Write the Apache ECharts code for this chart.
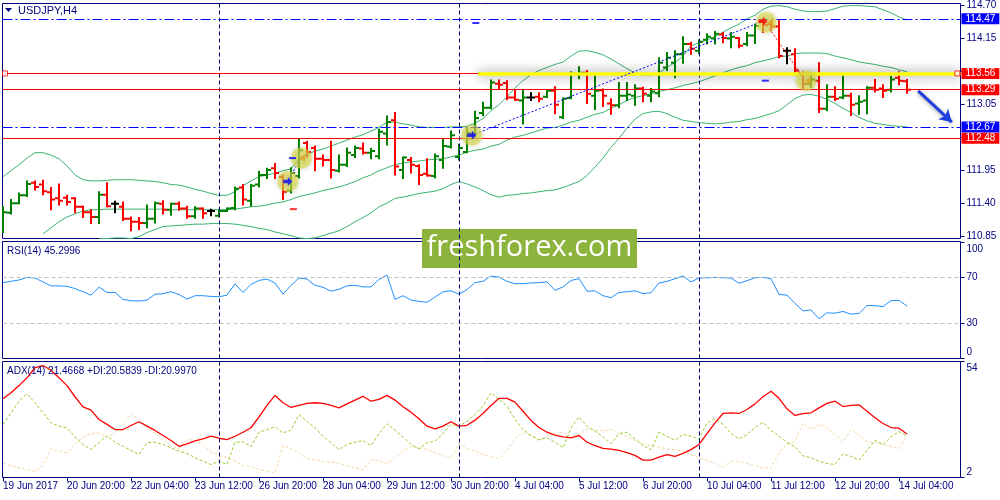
<!DOCTYPE html>
<html>
<head>
<meta charset="utf-8">
<title>USDJPY,H4</title>
<script src="https://cdn.jsdelivr.net/npm/echarts@6.0.0/dist/echarts.min.js"></script>
<style>
html, body { margin: 0; padding: 0; background: #fff; }
#chart { width: 1000px; height: 500px; }
</style>
</head>
<body>
<div id="chart"></div>
<script>
// H4 bars, 19 Jun 2017 12:00 .. 14 Jul 2017 08:00
var timeLabels = ['19 Jun 2017', '20 Jun 20:00', '22 Jun 04:00', '23 Jun 12:00', '26 Jun 20:00',
    '28 Jun 04:00', '29 Jun 12:00', '30 Jun 20:00', '4 Jul 04:00', '5 Jul 12:00', '6 Jul 20:00',
    '10 Jul 04:00', '11 Jul 12:00', '12 Jul 20:00', '14 Jul 04:00'];
var labelStep = 8;
var weekStarts = [27, 57, 87];

var opens = [111.04,111.24,111.40,111.53,111.74,111.71,111.58,111.48,111.49,111.48,
    111.34,111.25,111.17,111.54,111.39,111.34,111.14,111.09,111.07,111.14,
    111.39,111.29,111.39,111.31,111.18,111.31,111.27,111.19,111.27,111.32,
    111.66,111.44,111.71,111.87,111.98,111.84,111.61,111.85,112.40,112.32,
    112.14,112.12,111.94,112.04,112.20,112.31,112.24,112.18,112.56,112.78,
    111.95,112.12,112.02,111.89,111.85,112.12,112.34,112.17,112.25,112.53,
    112.90,112.99,113.39,113.40,113.16,113.11,113.16,113.17,113.17,113.27,
    112.83,113.15,113.55,113.57,113.19,113.28,113.06,113.03,113.19,113.19,
    113.31,113.19,113.23,113.66,113.74,113.88,114.05,113.94,114.12,114.14,
    114.21,114.14,114.15,114.05,114.19,114.43,114.38,114.34,113.94,113.88,
    113.56,113.39,113.44,112.97,113.17,113.16,113.19,113.06,113.11,113.32,
    113.31,113.29,113.49,113.43];
var highs = [111.34,111.46,111.57,111.77,111.77,111.78,111.66,111.72,111.53,111.49,
    111.35,111.29,111.59,111.74,111.43,111.42,111.17,111.16,111.37,111.42,
    111.44,111.40,111.42,111.35,111.34,111.32,111.30,111.29,111.32,111.67,
    111.71,111.71,111.93,111.98,112.06,111.87,111.99,112.47,112.43,112.35,
    112.20,112.43,112.20,112.32,112.35,112.40,112.31,112.63,112.85,112.91,
    112.17,112.16,112.04,112.14,112.22,112.46,112.60,112.38,112.64,112.93,
    113.08,113.45,113.45,113.44,113.29,113.29,113.24,113.24,113.29,113.34,
    113.15,113.59,113.67,113.61,113.52,113.30,113.14,113.41,113.41,113.37,
    113.33,113.31,113.82,113.91,113.94,114.17,114.08,114.12,114.22,114.26,
    114.24,114.24,114.16,114.24,114.38,114.47,114.43,114.46,113.99,113.97,
    113.59,113.52,113.74,113.37,113.34,113.52,113.23,113.19,113.34,113.46,
    113.37,113.51,113.59,113.46];
var lows = [110.91,111.22,111.39,111.51,111.62,111.54,111.29,111.37,111.37,111.24,
    111.16,111.06,111.06,111.34,111.24,111.11,110.94,110.96,110.99,111.07,
    111.22,111.20,111.28,111.15,111.15,111.15,111.19,111.17,111.26,111.29,
    111.37,111.35,111.67,111.81,111.81,111.46,111.57,111.82,112.17,111.94,
    112.02,111.82,111.92,112.01,112.16,112.22,112.14,112.14,112.37,111.87,
    111.81,111.90,111.71,111.85,111.82,111.98,112.32,112.12,112.24,112.50,
    112.86,112.97,113.31,113.12,113.11,112.72,113.11,113.09,113.16,112.89,
    112.81,113.14,113.47,113.06,112.96,113.01,112.88,112.99,113.11,113.03,
    113.09,113.09,113.17,113.61,113.49,113.73,113.88,113.89,114.05,114.05,
    114.07,113.99,113.99,114.02,114.06,114.24,114.27,113.82,113.72,113.59,
    113.31,113.33,112.91,112.94,113.11,113.14,112.86,112.88,112.89,113.25,
    113.16,113.25,113.37,113.23];
var closes = [111.25,111.40,111.53,111.72,111.67,111.60,111.46,111.44,111.42,111.34,
    111.25,111.17,111.54,111.35,111.39,111.14,111.09,111.07,111.14,111.40,
    111.29,111.39,111.31,111.18,111.31,111.23,111.27,111.27,111.31,111.64,
    111.46,111.69,111.87,111.95,111.90,111.59,111.90,112.28,112.25,112.14,
    112.12,111.95,112.04,112.24,112.32,112.24,112.27,112.59,112.75,112.01,
    112.16,112.04,111.87,111.86,112.18,112.35,112.53,112.32,112.57,112.82,
    112.99,113.41,113.37,113.16,113.12,113.16,113.16,113.14,113.27,113.04,
    113.14,113.56,113.57,113.22,113.27,113.19,113.03,113.19,113.21,113.31,
    113.22,113.26,113.74,113.82,113.88,114.05,113.97,114.09,114.17,114.22,
    114.15,114.17,114.02,114.19,114.35,114.37,114.34,113.85,113.94,113.61,
    113.39,113.46,112.97,113.17,113.14,113.19,113.04,113.09,113.32,113.29,
    113.27,113.46,113.44,113.29];

// Bollinger bands; null where the band runs below the visible price range
var bbUpper = [111.84,111.94,112.04,112.15,112.24,112.24,112.20,112.14,112.02,111.87,
    111.79,111.77,111.77,111.78,111.79,111.79,111.79,111.78,111.77,111.76,
    111.74,111.71,111.70,111.67,111.63,111.60,111.56,111.53,111.53,111.59,
    111.69,111.77,111.84,111.87,111.90,111.94,111.97,112.14,112.20,112.27,
    112.30,112.35,112.40,112.45,112.50,112.54,112.60,112.66,112.75,112.75,
    112.72,112.70,112.67,112.66,112.66,112.66,112.67,112.67,112.68,112.73,
    112.81,112.94,113.04,113.17,113.32,113.44,113.54,113.61,113.66,113.71,
    113.75,113.85,113.93,113.94,113.91,113.87,113.80,113.72,113.64,113.57,
    113.53,113.53,113.57,113.66,113.74,113.85,114.02,114.07,114.12,114.17,
    114.25,114.32,114.38,114.47,114.53,114.63,114.68,114.69,114.67,114.63,
    114.60,114.59,114.59,114.60,114.64,114.68,114.69,114.69,114.68,114.67,
    114.62,114.57,114.50,114.45];
var bbMiddle = [null,null,null,null,null,110.89,110.99,111.09,111.17,111.22,
    111.27,111.29,111.29,111.30,111.30,111.30,111.30,111.30,111.30,111.30,
    111.30,111.29,111.29,111.29,111.29,111.29,111.29,111.29,111.29,111.30,
    111.32,111.34,111.35,111.37,111.40,111.42,111.46,111.51,111.54,111.57,
    111.61,111.64,111.67,111.71,111.76,111.82,111.87,111.94,111.99,112.04,
    112.07,112.09,112.10,112.12,112.13,112.14,112.17,112.20,112.25,112.28,
    112.30,112.35,112.38,112.45,112.50,112.53,112.57,112.61,112.65,112.66,
    112.70,112.75,112.78,112.83,112.88,112.91,112.98,113.04,113.11,113.16,
    113.19,113.22,113.26,113.29,113.32,113.36,113.39,113.42,113.47,113.52,
    113.57,113.62,113.66,113.69,113.74,113.77,113.80,113.84,113.85,113.89,
    113.90,113.90,113.90,113.89,113.85,113.82,113.79,113.75,113.73,113.71,
    113.68,113.66,113.62,113.59];
var bbLower = [null,null,null,null,null,null,null,null,null,null,
    null,null,110.81,110.81,110.82,110.82,110.81,110.84,110.91,110.96,
    111.01,111.02,111.03,111.04,111.05,111.05,111.06,111.06,111.06,111.05,
    111.03,111.01,110.98,110.96,110.92,110.89,110.86,110.82,110.81,110.82,
    110.86,110.90,110.94,111.01,111.09,111.16,111.24,111.34,111.40,111.48,
    111.50,111.53,111.56,111.58,111.60,111.64,111.71,111.76,111.72,111.67,
    111.61,111.54,111.50,111.53,111.54,111.56,111.57,111.59,111.61,111.62,
    111.66,111.71,111.76,111.86,112.00,112.15,112.33,112.48,112.65,112.80,
    112.89,112.92,112.93,112.89,112.83,112.78,112.76,112.74,112.73,112.72,
    112.73,112.75,112.76,112.79,112.81,112.85,112.89,112.94,113.04,113.14,
    113.20,113.21,113.18,113.13,113.06,112.98,112.91,112.83,112.77,112.73,
    112.71,112.69,112.68,112.67];

var rsi = [65.5,66.6,67.8,70.0,69.5,66.1,62.7,62.7,62.3,60.4,
    57.6,54.7,61.5,57.0,57.0,51.0,49.9,49.6,50.4,55.5,
    55.9,57.6,55.3,51.3,54.2,54.2,53.6,53.3,54.7,64.4,
    57.0,64.0,67.4,68.6,65.2,55.5,63.2,69.5,68.6,63.2,
    61.5,58.1,59.8,62.7,63.2,61.8,61.8,68.3,72.0,51.0,
    54.2,50.4,49.3,48.5,53.0,57.6,58.4,55.5,59.5,65.5,
    66.6,71.2,70.3,66.6,64.6,64.6,65.2,65.5,66.1,58.9,
    61.8,67.4,68.9,58.1,58.4,54.2,52.5,57.0,57.6,58.4,
    56.1,56.7,65.2,66.6,68.9,71.2,66.1,69.5,69.7,70.0,
    69.7,69.5,64.9,67.2,69.7,70.0,68.9,55.3,54.7,47.6,
    41.1,41.9,34.3,39.4,39.1,40.6,38.3,38.9,45.7,45.7,
    44.8,49.9,50.2,45.3];

var adx = [37.3,40.0,43.2,46.7,51.2,52.2,50.1,46.7,43.2,38.2,
    33.7,32.2,28.0,25.8,23.5,23.5,25.3,27.0,25.0,23.1,
    20.8,18.6,16.0,17.1,18.4,19.3,20.5,19.6,19.0,20.5,
    22.3,24.3,29.2,34.3,38.8,35.5,33.4,34.3,35.2,35.5,
    35.2,34.3,33.2,35.0,36.7,38.4,36.2,37.0,38.8,36.7,
    33.7,31.3,28.3,25.0,23.8,25.0,27.0,25.0,25.4,27.7,
    30.7,34.3,37.5,37.5,35.8,31.7,27.6,24.4,22.3,21.0,
    20.2,19.8,20.8,17.8,16.3,15.1,14.7,14.2,13.1,11.9,
    9.8,9.8,11.1,12.3,11.5,12.8,14.5,16.8,21.7,26.5,
    30.7,31.0,30.7,32.5,35.0,38.2,40.7,37.5,32.8,29.8,
    30.6,31.0,33.2,35.2,36.2,33.8,34.3,34.6,31.7,28.8,
    26.2,24.4,24.1,21.47];
var plusDi = [25.8,31.0,36.2,39.5,35.5,31.0,26.5,25.0,24.3,20.2,
    16.8,14.6,17.6,20.8,17.8,16.0,14.2,12.3,17.6,17.8,
    16.8,15.3,13.8,12.8,10.8,9.3,7.8,9.3,7.8,17.8,
    18.0,15.8,22.3,23.5,24.7,22.0,23.2,30.2,27.2,24.3,
    20.5,17.6,14.5,16.8,17.8,18.6,16.3,21.7,26.1,23.2,
    20.2,16.8,14.9,17.6,18.3,21.7,25.8,25.0,27.2,30.2,
    34.0,40.0,37.0,34.0,28.0,23.5,20.8,19.0,19.8,17.8,
    15.3,24.3,29.2,25.0,22.8,20.2,17.1,21.7,22.3,19.3,
    16.3,14.5,22.3,20.5,18.6,21.3,20.5,19.3,26.5,28.3,
    25.8,21.7,19.3,21.3,24.3,26.8,23.1,20.5,17.8,15.8,
    11.7,10.8,9.3,8.3,7.8,12.6,11.5,9.8,14.2,18.7,
    16.8,20.2,22.6,20.58];
var minusDi = [8.3,7.4,6.3,5.6,4.8,7.4,14.9,13.8,13.1,16.8,
    20.2,21.7,22.0,19.8,22.0,25.8,30.7,28.0,24.3,22.0,
    19.0,16.3,14.9,19.0,18.7,16.8,13.3,11.9,10.8,9.3,
    7.4,6.8,5.6,4.8,4.1,16.3,14.9,13.1,10.4,9.8,
    9.3,8.9,8.3,7.4,6.3,5.3,10.1,9.3,8.1,10.8,
    13.8,15.8,15.3,14.5,13.1,11.9,10.5,17.2,14.9,13.8,
    12.3,11.3,10.4,14.2,19.3,22.3,20.5,18.4,20.5,21.7,
    22.3,20.2,21.3,23.8,23.2,22.9,23.5,22.0,20.2,18.7,
    17.2,16.3,15.6,14.9,14.5,13.7,12.3,10.8,9.8,8.3,
    6.3,9.3,9.3,8.3,7.4,6.3,6.3,13.1,16.9,18.1,
    26.3,23.4,25.9,24.1,21.4,18.1,23.4,21.1,18.1,17.7,
    16.7,15.9,14.9,21.0];

// price axis ticks and drawn levels
var priceTicks = [110.85, 111.40, 111.95, 112.50, 113.05, 113.60, 114.15, 114.70];
var priceLabels = [110.85, 111.40, 111.95, 113.05, 114.15, 114.70];
var blueLevels = [114.47, 112.67];
var redLevels = [113.56, 113.29, 112.48];
var zoneLevel = 113.56;
var zoneStart = 59.4;

// trade history marks: [bar, price]
var tradeBuy1 = [[35.6, 111.76], [37.2, 112.15]];
var tradeBuy2 = [[58.6, 112.53], [94.8, 114.42]];
var tradeSell1 = [[95.2, 114.42], [100.3, 113.44]];
var highlightSpots = [[35.6, 111.76], [37.3, 112.15], [58.6, 112.53], [95.4, 114.41], [100.4, 113.44]];
var buyOpens = [[35.6, 111.76], [58.6, 112.53]];
var sellOpens = [[95.0, 114.43]];
var closeMarks = [[37.4, 112.15], [95.9, 114.41], [100.6, 113.44]];
var takeProfits = [[36.2, 112.15], [59.1, 114.40], [95.3, 113.44]];
var stopLosses = [[36.3, 111.30]];
var forecastArrow = [[114.4, 113.27], [118.6, 112.75]];

var rsiText = 'RSI(14) 45.2996';
var adxText = 'ADX(14) 21.4668 +DI:20.5839 -DI:20.9970';

var navy = '#000080';
var font = 'Liberation Sans, Arial, sans-serif';

var chart = echarts.init(document.getElementById('chart'));

function pairs(arr) {
    return arr.map(function (v, i) { return [i, v]; });
}

var bars = opens.map(function (o, i) {
    return [i, o, highs[i], lows[i], closes[i]];
});

var labelIdx = timeLabels.map(function (t, k) { return k * labelStep; });

function renderBar(params, api) {
    var i = api.value(0), o = api.value(1), c = api.value(4);
    var po = api.coord([i, o]);
    var ph = api.coord([i, api.value(2)]);
    var pl = api.coord([i, api.value(3)]);
    var pc = api.coord([i, c]);
    var color = c > o ? '#008000' : (c < o ? '#ff0000' : '#000000');
    var x = Math.round(po[0]);
    var st = { stroke: color, lineWidth: 2 };
    return {
        type: 'group',
        children: [
            { type: 'line', shape: { x1: x, y1: ph[1] - 0.5, x2: x, y2: pl[1] + 0.5 }, style: st },
            { type: 'line', shape: { x1: x - 4, y1: po[1], x2: x, y2: po[1] }, style: st },
            { type: 'line', shape: { x1: x, y1: pc[1], x2: x + 4, y2: pc[1] }, style: st }
        ]
    };
}

var weekLineStyle = { color: navy, type: [4, 3], width: 1 };
function weekMarks() {
    return weekStarts.map(function (i) { return { xAxis: i, lineStyle: weekLineStyle }; });
}

var xBase = { type: 'value', min: -0.0625, max: 119.6875, splitLine: { show: false } };
var noZero = { show: false, onZero: false };

var option = {
    animation: false,
    backgroundColor: '#ffffff',
    textStyle: { fontFamily: font },
    grid: [
        { left: 2.5, top: 2.5, width: 958, height: 236, show: true, borderColor: navy, borderWidth: 1 },
        { left: 2.5, top: 241.5, width: 958, height: 117, show: true, borderColor: navy, borderWidth: 1 },
        { left: 2.5, top: 361.5, width: 958, height: 116, show: true, borderColor: navy, borderWidth: 1 }
    ],
    xAxis: [
        Object.assign({ gridIndex: 0, show: false, axisLine: noZero }, xBase),
        Object.assign({ gridIndex: 1, show: false, axisLine: noZero }, xBase),
        Object.assign({
            gridIndex: 2,
            axisLine: noZero,
            axisTick: { customValues: labelIdx, length: 4, lineStyle: { color: navy } },
            axisLabel: {
                customValues: labelIdx, align: 'left', margin: 4, color: navy,
                fontSize: 10, fontFamily: font,
                formatter: function (v) { return timeLabels[Math.round(v / labelStep)]; }
            }
        }, xBase)
    ],
    yAxis: [
        {
            gridIndex: 0, type: 'value', position: 'right', min: 110.811, max: 114.725,
            splitLine: { show: false }, axisLine: noZero,
            axisTick: { customValues: priceTicks, length: 4, lineStyle: { color: navy } },
            axisLabel: {
                customValues: priceLabels, margin: 6, color: navy, fontSize: 10, fontFamily: font,
                formatter: function (v) { return v.toFixed(2); }
            }
        },
        {
            gridIndex: 1, type: 'value', position: 'right', min: 0, max: 101,
            splitLine: { show: false }, axisLine: noZero,
            axisTick: { customValues: [0, 30, 70, 100], length: 4, lineStyle: { color: navy } },
            axisLabel: {
                customValues: [0, 30, 70, 100], margin: 6, color: navy, fontSize: 10, fontFamily: font,
                formatter: function (v) {
                    if (v === 100) return '{dn|100}';
                    if (v === 0) return '{up|0}';
                    return '{n|' + v + '}';
                },
                rich: {
                    dn: { padding: [14, 0, 0, 0], color: navy, fontSize: 10 },
                    up: { padding: [0, 0, 12, 0], color: navy, fontSize: 10 },
                    n: { color: navy, fontSize: 10 }
                }
            }
        },
        {
            gridIndex: 2, type: 'value', position: 'right', min: 2, max: 54,
            splitLine: { show: false }, axisLine: noZero,
            axisTick: { customValues: [2, 54], length: 4, lineStyle: { color: navy } },
            axisLabel: {
                customValues: [2, 54], margin: 6, color: navy, fontSize: 10, fontFamily: font,
                formatter: function (v) { return v === 54 ? '{dn|54}' : '{up|2}'; },
                rich: {
                    dn: { padding: [14, 0, 0, 0], color: navy, fontSize: 10 },
                    up: { padding: [0, 0, 10, 0], color: navy, fontSize: 10 }
                }
            }
        }
    ],
    series: [
        // Bollinger bands (upper carries the week separators)
        {
            type: 'line', xAxisIndex: 0, yAxisIndex: 0, data: pairs(bbUpper), showSymbol: false, z: 2,
            lineStyle: { color: '#3cb371', width: 1 },
            markLine: { silent: true, symbol: ['none', 'none'], label: { show: false }, data: weekMarks() }
        },
        {
            type: 'line', xAxisIndex: 0, yAxisIndex: 0, data: pairs(bbMiddle), showSymbol: false, z: 2,
            lineStyle: { color: '#3cb371', width: 1 },
            // horizontal levels with coloured price tags
            markLine: {
                silent: true, symbol: ['none', 'none'],
                label: {
                    show: true, position: 'end', distance: 1, color: '#ffffff', fontSize: 10,
                    fontFamily: font, padding: [1, 4, 0, 4],
                    formatter: function (p) { return Number(p.value).toFixed(2); }
                },
                data: blueLevels.map(function (v) {
                    return { yAxis: v, lineStyle: { color: '#0000ff', type: [10, 3, 2, 3], width: 1 },
                        label: { backgroundColor: '#0000ff' } };
                }).concat(redLevels.map(function (v) {
                    return { yAxis: v, lineStyle: { color: '#ff0000', type: 'solid', width: 1 },
                        label: { backgroundColor: '#ff0000' } };
                }))
            }
        },
        {
            type: 'line', xAxisIndex: 0, yAxisIndex: 0, data: pairs(bbLower), showSymbol: false, z: 2,
            lineStyle: { color: '#3cb371', width: 1 }
        },
        // yellow zone line and forecast arrow
        {
            type: 'line', xAxisIndex: 0, yAxisIndex: 0, data: [[zoneStart, zoneLevel]], showSymbol: false, z: 3,
            lineStyle: { opacity: 0 },
            markLine: {
                silent: true, label: { show: false }, symbol: ['none', 'none'],
                data: [
                    [
                        { coord: [zoneStart, zoneLevel],
                          lineStyle: { color: '#ffff00', width: 3.5, type: 'solid',
                              shadowBlur: 12, shadowColor: 'rgba(0,0,0,0.6)', shadowOffsetY: 0 } },
                        { coord: [119.6875, zoneLevel] }
                    ],
                    [
                        { coord: forecastArrow[0], symbol: 'none',
                          lineStyle: { color: '#1f3fe0', width: 3, type: 'solid',
                              shadowBlur: 4, shadowColor: 'rgba(0,0,0,0.4)', shadowOffsetY: 1 } },
                        { coord: forecastArrow[1], symbol: 'arrow', symbolSize: [11, 12] }
                    ]
                ]
            }
        },
        // OHLC bars
        {
            type: 'custom', xAxisIndex: 0, yAxisIndex: 0, data: bars, renderItem: renderBar, z: 4, clip: true,
            encode: { x: 0, y: [1, 2, 3, 4] }
        },
        // trade history
        {
            type: 'line', xAxisIndex: 0, yAxisIndex: 0, data: tradeBuy1, showSymbol: false, z: 5,
            lineStyle: { color: '#0000ff', width: 1, type: [2, 2] }
        },
        {
            type: 'line', xAxisIndex: 0, yAxisIndex: 0, data: tradeBuy2, showSymbol: false, z: 5,
            lineStyle: { color: '#0000ff', width: 1, type: [2, 2] }
        },
        {
            type: 'line', xAxisIndex: 0, yAxisIndex: 0, data: tradeSell1, showSymbol: false, z: 5,
            lineStyle: { color: '#ff0000', width: 1, type: [2, 2] }
        },
        {
            type: 'scatter', xAxisIndex: 0, yAxisIndex: 0, data: highlightSpots, z: 6,
            symbol: 'circle', symbolSize: 21,
            itemStyle: { color: 'rgba(222,222,70,0.72)', shadowBlur: 5, shadowColor: 'rgba(120,120,60,0.6)' }
        },
        {
            type: 'scatter', xAxisIndex: 0, yAxisIndex: 0, data: buyOpens, z: 7,
            symbol: 'path://M0,3H5V0L10,5L5,10V7H0Z', symbolSize: [9, 9], itemStyle: { color: '#0000ff' }
        },
        {
            type: 'scatter', xAxisIndex: 0, yAxisIndex: 0, data: sellOpens, z: 7,
            symbol: 'path://M0,3H5V0L10,5L5,10V7H0Z', symbolSize: [9, 9], itemStyle: { color: '#ff0000' }
        },
        {
            type: 'scatter', xAxisIndex: 0, yAxisIndex: 0, data: closeMarks, z: 7,
            symbol: 'path://M10,0L0,5L10,10Z', symbolSize: [6, 8], itemStyle: { color: '#daa520' }
        },
        {
            type: 'scatter', xAxisIndex: 0, yAxisIndex: 0, data: takeProfits, z: 7,
            symbol: 'rect', symbolSize: [7, 2], itemStyle: { color: '#0000ff' }
        },
        {
            type: 'scatter', xAxisIndex: 0, yAxisIndex: 0, data: stopLosses, z: 7,
            symbol: 'rect', symbolSize: [7, 2], itemStyle: { color: '#ff0000' }
        },
        {
            type: 'scatter', xAxisIndex: 0, yAxisIndex: 0, data: [[0.25, zoneLevel], [119.3, zoneLevel]], z: 7,
            symbol: 'rect', symbolSize: 5, itemStyle: { color: '#ffffff', borderColor: '#ff0000', borderWidth: 1 }
        },
        // RSI
        {
            type: 'line', xAxisIndex: 1, yAxisIndex: 1, data: pairs(rsi), showSymbol: false,
            lineStyle: { color: '#1e90ff', width: 1 },
            markLine: {
                silent: true, symbol: ['none', 'none'], label: { show: false },
                data: [
                    { yAxis: 70, lineStyle: { color: '#c0c0c0', type: [4, 3], width: 1 } },
                    { yAxis: 30, lineStyle: { color: '#c0c0c0', type: [4, 3], width: 1 } }
                ].concat(weekMarks())
            }
        },
        // ADX
        {
            type: 'line', xAxisIndex: 2, yAxisIndex: 2, data: pairs(minusDi), showSymbol: false,
            lineStyle: { color: '#f5d9a8', width: 1, type: [3, 2] }
        },
        {
            type: 'line', xAxisIndex: 2, yAxisIndex: 2, data: pairs(plusDi), showSymbol: false,
            lineStyle: { color: '#9acd32', width: 1, type: [3, 2] }
        },
        {
            type: 'line', xAxisIndex: 2, yAxisIndex: 2, data: pairs(adx), showSymbol: false,
            lineStyle: { color: '#ff0000', width: 1.3 },
            markLine: { silent: true, symbol: ['none', 'none'], label: { show: false }, data: weekMarks() }
        }
    ],
    graphic: [
        { type: 'polygon', shape: { points: [[5, 8], [12, 8], [8.5, 12]] }, style: { fill: navy }, z: 50 },
        { type: 'text', x: 18, y: 5, style: { text: 'USDJPY,H4', fill: navy, font: '11px ' + font }, z: 50 },
        { type: 'text', x: 7, y: 246, style: { text: rsiText, fill: navy, font: '10px ' + font }, z: 50 },
        { type: 'text', x: 7, y: 366, style: { text: adxText, fill: navy, font: '10px ' + font }, z: 50 },
        {
            type: 'group', x: 422, y: 229, z: 60,
            children: [
                { type: 'rect', shape: { x: 0, y: 0, width: 215, height: 39 }, style: { fill: '#8cb33c' } },
                { type: 'text', x: 107.5, y: 19, style: { text: 'freshforex.com', fill: '#ffffff',
                    font: '29px Open Sans, sans-serif', align: 'center', verticalAlign: 'middle' } }
            ]
        }
    ]
};

chart.setOption(option);
</script>
</body>
</html>
